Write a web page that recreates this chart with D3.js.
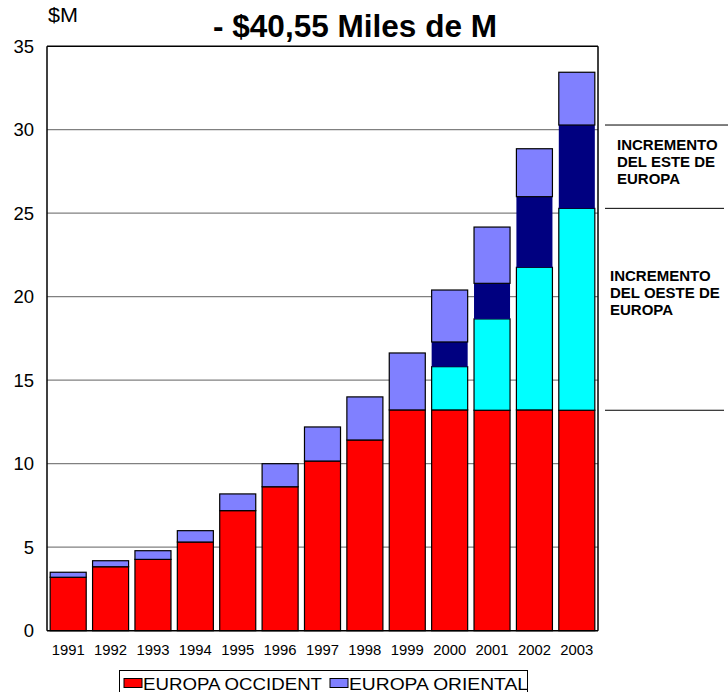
<!DOCTYPE html>
<html>
<head>
<meta charset="utf-8">
<script src="https://cdn.jsdelivr.net/npm/d3@7/dist/d3.min.js"></script>
<style>
body { margin: 0; background: #fff; }
svg { display: block; }
text { font-family: "Liberation Sans", Arial, sans-serif; }
</style>
</head>
<body>
<div id="body"></div>
<script>
// datos (miles de millones $)
var years = ['1991','1992','1993','1994','1995','1996','1997','1998','1999','2000','2001','2002','2003'];
var occidente = [3.2, 3.83, 4.27, 5.31, 7.19, 8.62, 10.16, 11.42, 13.22, 13.22, 13.2, 13.22, 13.2];
var incOeste = [0, 0, 0, 0, 0, 0, 0, 0, 0, 2.59, 5.47, 8.54, 12.09];
var incEste = [0, 0, 0, 0, 0, 0, 0, 0, 0, 1.48, 2.13, 4.23, 4.99];
var oriental = [0.3, 0.36, 0.52, 0.68, 1.0, 1.38, 2.04, 2.58, 3.41, 3.11, 3.37, 2.87, 3.16];
var yTicks = [0, 5, 10, 15, 20, 25, 30, 35];

window.onload = function(){
    var W = 728, H = 692;
    var svg = d3.select("#body").append("svg").attr("width", W).attr("height", H);

    var x = d3.scaleBand().domain(years).range([47, 598]).paddingInner(0.15).paddingOuter(0.075);
    var y = d3.scaleLinear().domain([0, 35]).range([630.7, 46.2]);

    var keys = ['occ', 'oeste', 'este', 'ori'];
    var colors = {occ: '#ff0000', oeste: '#00ffff', este: '#000080', ori: '#8080ff'};
    var rows = years.map(function(d, i){
        return {year: d, occ: occidente[i], oeste: incOeste[i], este: incEste[i], ori: oriental[i]};
    });
    var series = d3.stack().keys(keys)(rows);

    // grid
    svg.append("g").selectAll("line").data(yTicks.filter(function(t){ return t > 0 && t < 35; }))
      .enter().append("line")
      .attr("x1", 47).attr("x2", 598)
      .attr("y1", function(d){ return y(d); }).attr("y2", function(d){ return y(d); })
      .attr("stroke", "#808080").attr("stroke-width", 1.2);

    // barras
    svg.append("g").selectAll("g").data(series).enter().append("g")
      .attr("fill", function(s){ return colors[s.key]; })
      .attr("stroke", function(s){ return s.key == 'este' ? 'none' : '#000'; })
      .selectAll("rect").data(function(s){ return s.filter(function(d){ return d[1] - d[0] > 0; }); })
      .enter().append("rect")
      .attr("x", function(d){ return x(d.data.year); })
      .attr("width", x.bandwidth())
      .attr("y", function(d){ return y(d[1]); })
      .attr("height", function(d){ return y(d[0]) - y(d[1]); })
      .attr("stroke-width", 1.2);

    // marco
    svg.append("line").attr("x1", 47).attr("x2", 598).attr("y1", y(35)).attr("y2", y(35)).attr("stroke", "#000").attr("stroke-width", 1.5);
    svg.append("line").attr("x1", 598).attr("x2", 598).attr("y1", y(35)).attr("y2", y(0)).attr("stroke", "#000").attr("stroke-width", 1.5);
    svg.append("line").attr("x1", 47).attr("x2", 47).attr("y1", y(35)).attr("y2", y(0)).attr("stroke", "#000").attr("stroke-width", 1.5);
    svg.append("line").attr("x1", 47).attr("x2", 598).attr("y1", y(0)).attr("y2", y(0)).attr("stroke", "#000").attr("stroke-width", 1.5);

    // ejes
    svg.append("g").selectAll("text").data(yTicks).enter().append("text")
      .attr("x", 34).attr("y", function(d){ return y(d) + 6.5; })
      .attr("text-anchor", "end").attr("font-size", "18.5px")
      .text(function(d){ return d; });

    svg.append("g").selectAll("text").data(years).enter().append("text")
      .attr("x", function(d){ return x(d) + x.bandwidth() / 2; })
      .attr("y", 655)
      .attr("text-anchor", "middle").attr("font-size", "14.5px")
      .attr("textLength", 33).attr("lengthAdjust", "spacingAndGlyphs")
      .text(function(d){ return d; });

    svg.append("text").attr("x", 48).attr("y", 22).attr("font-size", "21px")
      .attr("textLength", 30).attr("lengthAdjust", "spacingAndGlyphs")
      .text("$M");

    svg.append("text").attr("x", 213).attr("y", 37).attr("font-size", "32px").attr("font-weight", "bold")
      .attr("textLength", 284).attr("lengthAdjust", "spacingAndGlyphs")
      .text("- $40,55 Miles de M");

    // anotaciones a la derecha (limites del apilado de 2003)
    var last = series.map(function(s){ return s[s.length - 1]; });
    var lvl = [last[0][1], last[1][1], last[2][1]];
    svg.append("g").selectAll("line").data(lvl).enter().append("line")
      .attr("x1", 605).attr("x2", function(d, i){ return i == 2 ? 728 : 724; })
      .attr("y1", function(d){ return y(d); }).attr("y2", function(d){ return y(d); })
      .attr("stroke", "#000").attr("stroke-width", 1);

    var notas = [
        {x: 617, y: 150, lines: ['INCREMENTO', 'DEL ESTE DE', 'EUROPA']},
        {x: 610, y: 281, lines: ['INCREMENTO', 'DEL OESTE DE', 'EUROPA']}
    ];
    notas.forEach(function(n){
        var t = svg.append("text").attr("x", n.x).attr("y", n.y).attr("font-size", "15px").attr("font-weight", "bold");
        n.lines.forEach(function(l, i){
            t.append("tspan").attr("x", n.x).attr("dy", i == 0 ? 0 : 16.8).text(l);
        });
    });

    // leyenda
    var lg = svg.append("g");
    lg.append("rect").attr("x", 119.5).attr("y", 670.5).attr("width", 408).attr("height", 30)
      .attr("fill", "#fff").attr("stroke", "#000").attr("stroke-width", 1);
    var items = [{name: 'EUROPA OCCIDENT', c: colors.occ, x: 124}, {name: 'EUROPA ORIENTAL', c: colors.ori, x: 330}];
    items.forEach(function(it){
        lg.append("rect").attr("x", it.x).attr("y", 678.5).attr("width", 18).attr("height", 9)
          .attr("fill", it.c).attr("stroke", "#000").attr("stroke-width", 1);
        lg.append("text").attr("x", it.x + 19).attr("y", 689.5).attr("font-size", "16px")
          .attr("textLength", 179).attr("lengthAdjust", "spacingAndGlyphs").text(it.name);
    });
};
</script>
</body>
</html>
